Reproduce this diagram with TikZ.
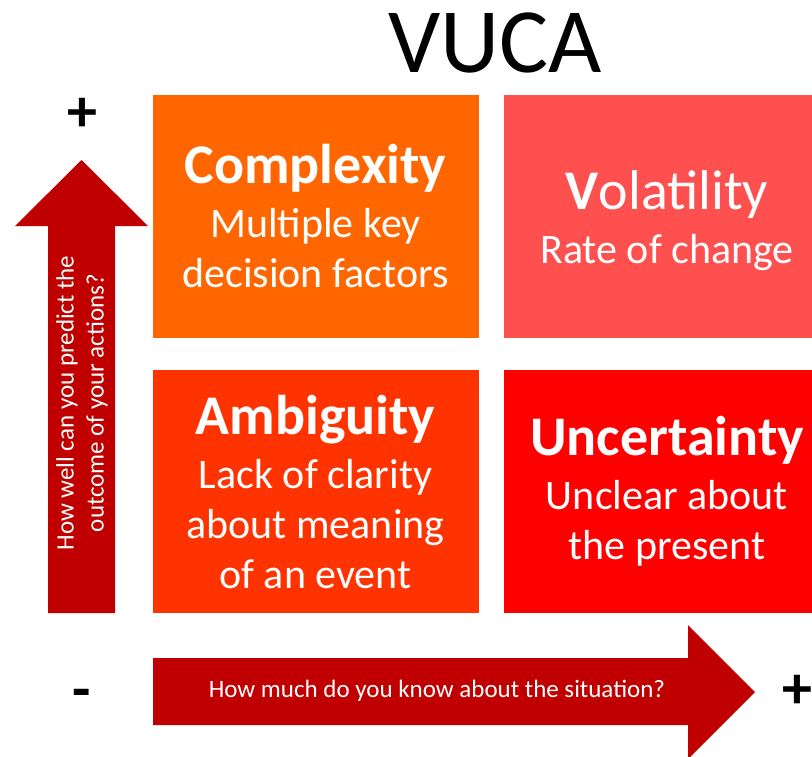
\documentclass[tikz,border=0pt]{standalone}
\usepackage{fontspec}
\setmainfont{Carlito}
\usetikzlibrary{positioning}

\definecolor{cplxorange}{RGB}{255,102,0}
\definecolor{volred}{RGB}{255,80,80}
\definecolor{ambred}{RGB}{255,51,0}
\definecolor{uncred}{RGB}{255,0,0}
\definecolor{axisred}{RGB}{192,0,0}

\tikzset{
  quad/.style={minimum width=326pt, minimum height=243pt, inner sep=0pt,
    text=white, align=center, font=\fontsize{42}{50}\selectfont},
  bigtitle/.style={inner sep=0pt, font=\fontsize{92}{92}\selectfont},
  axistext/.style={inner sep=0pt, text=white, align=center,
    font=\fontsize{25}{30}\selectfont},
  axisarrow/.style={fill=axisred, draw=none},
  sign/.style={inner sep=0pt, font=\fontsize{60}{60}\selectfont\bfseries},
}
\newcommand{\quadtitle}[1]{{\fontsize{56}{60}\selectfont\bfseries #1}}

\begin{document}
\begin{tikzpicture}[x=1pt,y=-1pt]
  \useasboundingbox (0,0) rectangle (812,756);

  % axis arrows
  \fill[axisarrow] (48,613) -- (48,226) -- (15,226) -- (81.5,160)
    -- (148,226) -- (115,226) -- (115,613) -- cycle;
  \fill[axisarrow] (153,658) -- (688,658) -- (688,625) -- (755,692)
    -- (688,759) -- (688,725) -- (153,725) -- cycle;

  % title
  \node[bigtitle] (vuca) at (495,43) {VUCA};

  % the four quadrants
  \node[quad, fill=cplxorange] (cplx) at (315.5,216.5)
    {\quadtitle{Complexity}\\[4pt]Multiple key\\decision factors};
  \node[quad, fill=volred] (vola) at (667,216.5)
    {};
  \node[text=white, align=center, inner sep=0pt, font=\fontsize{42}{50}\selectfont]
    (volatext) at (667,221)
    {{\fontsize{56}{60}\selectfont\textbf{V}olatility}\\[4pt]Rate of change};
  \node[quad, fill=ambred] (ambi) at (315.5,491.5)
    {\quadtitle{Ambiguity}\\[4pt]Lack of clarity\\about meaning\\of an event};
  \node[quad, fill=uncred] (unce) at (667,491.5)
    {\quadtitle{Uncertainty}\\[4pt]Unclear about\\the present};

  % axis labels
  \node[axistext, rotate=90] (ylabel) at (82,403)
    {How well can you predict the\\outcome of your actions?};
  \node[axistext] (xlabel) at (437,691)
    {How much do you know about the situation?};

  % signs
  \node[sign] (yplus) at (82,115) {+};
  \node[sign] (xminus) at (82,699) {-};
  \node[sign] (xplus) at (797,692) {+};
\end{tikzpicture}
\end{document}
